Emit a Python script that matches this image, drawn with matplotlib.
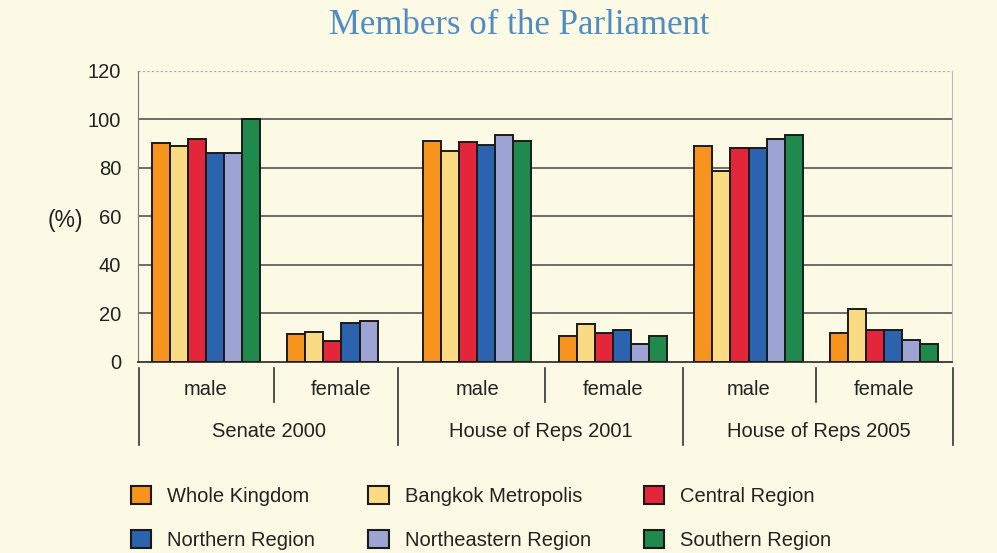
import numpy as np
from matplotlib import pyplot as plt
from matplotlib.patches import Patch

# share of seats (%) by sex, per chamber and region
categories = ['male', 'female', 'male', 'female', 'male', 'female']
chambers = ['Senate 2000', 'House of Reps 2001', 'House of Reps 2005']
regions = ['Whole Kingdom', 'Bangkok Metropolis', 'Central Region',
           'Northern Region', 'Northeastern Region', 'Southern Region']

whole_kingdom = [90, 11.5, 91, 10.5, 89, 12]
bangkok = [89, 12.5, 87, 15.5, 78.5, 22]
central = [92, 8.5, 90.5, 12, 88, 13]
northern = [86, 16, 89.5, 13, 88, 13]
northeastern = [86, 17, 93.5, 7.5, 92, 9]
southern = [100, np.nan, 91, 10.5, 93.5, 7.5]

series = [whole_kingdom, bangkok, central, northern, northeastern, southern]
colors = ['#F7941D', '#FADB83', '#E3263A', '#2B63AE', '#9DA3D2', '#1F8A4C']

bg = '#FCFAE4'
plt.rcParams['font.family'] = ['Liberation Sans', 'DejaVu Sans']

fig = plt.figure(figsize=(9.97, 5.53), dpi=100, facecolor=bg)
ax = fig.add_axes([0.1384, 0.3454, 0.8165, 0.5271], facecolor=bg)

x = np.arange(len(categories))
width = 0.8 / len(series)
for i, (vals, c) in enumerate(zip(series, colors)):
    ax.bar(x - 0.4 + width * (i + 0.5), vals, width, color=c,
           edgecolor='#1a1a1a', linewidth=1.4, zorder=3)

ax.set_xlim(-0.5, len(categories) - 0.5)
ax.set_ylim(0, 120)
ax.set_yticks(np.arange(0, 121, 20))
ax.tick_params(axis='y', length=0, pad=12, labelsize=14.5, colors='#222222')
ax.set_xticks([])
for y in range(20, 101, 20):
    ax.axhline(y, color='#555555', lw=1.2, zorder=1)
ax.axhline(120, color='#aaaaaa', lw=0.8, ls=(0, (2, 2)), zorder=1)

ax.spines['top'].set_visible(False)
ax.spines['left'].set_color('#777777')
ax.spines['right'].set_color('#bbbbbb')
ax.spines['right'].set_linewidth(0.8)
ax.spines['bottom'].set_color('#333333')
ax.spines['bottom'].set_linewidth(1.3)

# two-level category labels with separators below the axis
trans = ax.get_xaxis_transform()
major_sep = [-0.49, 1.42, 3.52, 5.51]
minor_sep = [0.5, 2.5, 4.5]
for b in major_sep:
    ax.plot([b, b], [-0.02, -0.285], transform=trans, color='#333333', lw=1.2, clip_on=False)
for b in minor_sep:
    ax.plot([b, b], [-0.02, -0.137], transform=trans, color='#333333', lw=1.2, clip_on=False)
for xi, lab in zip(x, categories):
    ax.text(xi, -0.093, lab, transform=trans, ha='center', va='center',
            fontsize=14.5, color='#222222')
for k, lab in enumerate(chambers):
    mid = (major_sep[k] + major_sep[k + 1]) / 2
    ax.text(mid, -0.24, lab, transform=trans, ha='center', va='center',
            fontsize=14.5, color='#222222')

fig.text(65 / 997, 1 - 220 / 553, '(%)', ha='center', va='center',
         fontsize=16.5, color='#222222')
fig.text(0.521, 0.953, 'Members of the Parliament', ha='center', va='center',
         fontsize=25, color='#4F8CC4', family='Liberation Serif')

handles = [Patch(facecolor=c, edgecolor='#1a1a1a', linewidth=1.5, label=r)
           for c, r in zip(colors, regions)]
order = [0, 3, 1, 4, 2, 5]
fig.legend([handles[i] for i in order], [regions[i] for i in order], ncol=3,
           loc='upper left', bbox_to_anchor=(131 / 997, 1 - 486 / 553),
           frameon=False, fontsize=14.5, handlelength=1.0, handleheight=1.0,
           handletextpad=0.8, columnspacing=2.65, labelspacing=1.2,
           borderpad=0, borderaxespad=0, labelcolor='#222222')

fig.savefig('out.png', dpi=100, facecolor=bg)
